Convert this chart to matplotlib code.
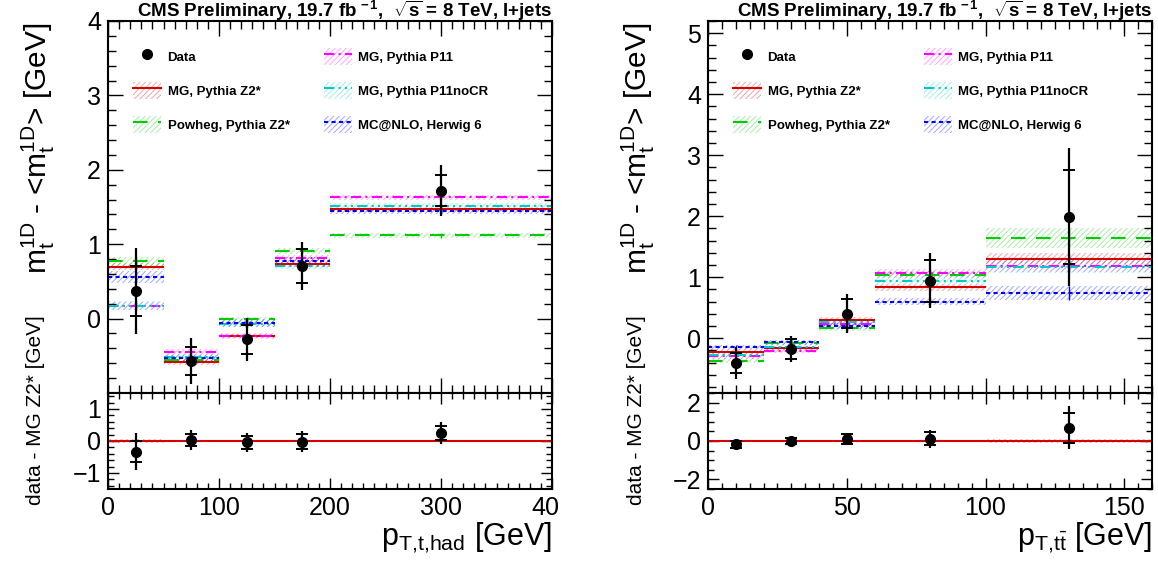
import numpy as np
import matplotlib
matplotlib.use("Agg")
import matplotlib.pyplot as plt
from matplotlib.patches import Patch, Rectangle
from matplotlib.lines import Line2D
from matplotlib.ticker import MultipleLocator, FixedLocator

plt.rcParams["font.family"] = ["Liberation Sans", "DejaVu Sans"]
plt.rcParams["mathtext.fontset"] = "custom"
plt.rcParams["mathtext.rm"] = "Liberation Sans"
plt.rcParams["mathtext.it"] = "Liberation Sans"
plt.rcParams["mathtext.bf"] = "Liberation Sans:bold"
plt.rcParams["hatch.linewidth"] = 0.7

# p_T of the hadronic top
had_edges = [0, 50, 100, 150, 200, 400]
had_centers = [25, 75, 125, 175, 300]
had_data = [0.37, -0.57, -0.28, 0.71, 1.72]
had_stat = [0.34, 0.19, 0.20, 0.23, 0.21]
had_tot = [0.58, 0.31, 0.29, 0.32, 0.34]
had_mg_z2 = [0.70, -0.59, -0.235, 0.73, 1.47]
had_powheg = [0.77, -0.555, -0.01, 0.91, 1.12]
had_p11 = [0.17, -0.45, -0.23, 0.81, 1.63]
had_p11nocr = [0.17, -0.51, -0.07, 0.71, 1.52]
had_mcatnlo = [0.56, -0.53, -0.06, 0.78, 1.44]
had_mg_z2_err = [0.05, 0.03, 0.03, 0.03, 0.02]
had_powheg_err = [0.06, 0.03, 0.03, 0.04, 0.03]
had_p11_err = [0.05, 0.04, 0.04, 0.04, 0.03]
had_p11nocr_err = [0.06, 0.04, 0.04, 0.04, 0.03]
had_mcatnlo_err = [0.08, 0.04, 0.05, 0.05, 0.03]

# p_T of the ttbar system
tt_edges = [0, 20, 40, 60, 100, 160]
tt_centers = [10, 30, 50, 80, 130]
tt_data = [-0.41, -0.18, 0.40, 0.94, 1.99]
tt_stat = [0.17, 0.16, 0.24, 0.34, 0.77]
tt_tot = [0.26, 0.21, 0.32, 0.45, 1.13]
tt_mg_z2 = [-0.23, -0.17, 0.30, 0.83, 1.30]
tt_powheg = [-0.37, -0.08, 0.17, 1.04, 1.64]
tt_p11 = [-0.30, -0.21, 0.23, 1.07, 1.18]
tt_p11nocr = [-0.27, -0.15, 0.26, 0.94, 1.17]
tt_mcatnlo = [-0.15, -0.07, 0.20, 0.60, 0.74]
tt_mg_z2_err = [0.03, 0.03, 0.04, 0.05, 0.09]
tt_powheg_err = [0.04, 0.03, 0.05, 0.06, 0.17]
tt_p11_err = [0.04, 0.04, 0.04, 0.06, 0.10]
tt_p11nocr_err = [0.04, 0.04, 0.04, 0.06, 0.10]
tt_mcatnlo_err = [0.04, 0.04, 0.05, 0.06, 0.11]

labels = ["MG, Pythia Z2*", "Powheg, Pythia Z2*", "MG, Pythia P11",
          "MG, Pythia P11noCR", "MC@NLO, Herwig 6"]
colors = ["#d40000", "#00cc00", "#ff00ff", "#00c8c8", "#0000ff"]
styles = ["-", (0, (7, 5)), (0, (5, 2, 1, 2)), (0, (5, 2, 1, 2, 1, 2)), (0, (2, 1.6))]

W, H = 1158, 567


def box(x0, y0, x1, y1):
    return [x0 / W, 1 - y1 / H, (x1 - x0) / W, (y1 - y0) / H]


def hatch_color(c):
    return matplotlib.colors.to_rgba(c, 0.35)


def draw_model(ax, edges, vals, errs, color, ls):
    edges = np.asarray(edges, float)
    vals = np.asarray(vals)
    errs = np.asarray(errs)
    lo, hi = edges[:-1], edges[1:]
    ax.bar(lo, 2 * errs, bottom=vals - errs, width=hi - lo, align="edge",
           facecolor="none", edgecolor=hatch_color(color), hatch="//////",
           linewidth=0, zorder=1)
    ax.hlines(vals, lo, hi, colors=color, linestyles=[ls], linewidth=1.5, zorder=2)
    ax.vlines((lo + hi) / 2, vals - errs, vals + errs, colors=color, linewidth=1.0, zorder=2)


def draw_data(ax, x, y, stat, tot):
    ax.errorbar(x, y, yerr=tot, fmt="o", color="black", ms=7, elinewidth=1.6,
                capsize=0, zorder=5)
    ax.errorbar(x, y, yerr=stat, fmt="none", ecolor="black", elinewidth=0,
                capsize=4.5, capthick=1.4, zorder=5)


def style(ax, xmaj, xmin, ymaj, ymin, big):
    ax.xaxis.set_major_locator(MultipleLocator(xmaj))
    ax.xaxis.set_minor_locator(MultipleLocator(xmin))
    ax.yaxis.set_major_locator(MultipleLocator(ymaj))
    ax.yaxis.set_minor_locator(MultipleLocator(ymin))
    ax.tick_params(which="both", direction="in", top=True, right=True,
                   width=1.0, labelsize=18, pad=5)
    ax.tick_params(which="major", length=11 if big else 8)
    ax.tick_params(which="minor", length=6 if big else 4)
    for s in ax.spines.values():
        s.set_linewidth(1.5)


fig = plt.figure(figsize=(W / 100, H / 100), dpi=100)

panels = [
    (108, had_edges, had_centers, had_data, had_stat, had_tot,
     [had_mg_z2, had_powheg, had_p11, had_p11nocr, had_mcatnlo],
     [had_mg_z2_err, had_powheg_err, had_p11_err, had_p11nocr_err, had_mcatnlo_err],
     (0, 400), (-1, 4), (-1.5, 1.5), (100, 10),
     r"p$_{\mathrm{T{,}t{,}had}}$ [GeV]"),
    (708, tt_edges, tt_centers, tt_data, tt_stat, tt_tot,
     [tt_mg_z2, tt_powheg, tt_p11, tt_p11nocr, tt_mcatnlo],
     [tt_mg_z2_err, tt_powheg_err, tt_p11_err, tt_p11nocr_err, tt_mcatnlo_err],
     (0, 160), (-0.9, 5.2), (-2.5, 2.5), (50, 5),
     r"p$_{\mathrm{T{,}t\bar{t}}}$ [GeV]"),
]

for i, (x0, edges, centers, data, stat, tot, models, merrs, xlim, ylim,
        rlim, xt, xlabel) in enumerate(panels):
    x1 = x0 + 444
    ax = fig.add_axes(box(x0, 21, x1, 393))
    axr = fig.add_axes(box(x0, 393, x1, 489))

    for vals, errs, c, ls in zip(models, merrs, colors, styles):
        draw_model(ax, edges, vals, errs, c, ls)
    draw_data(ax, centers, data, stat, tot)

    ax.set_xlim(*xlim)
    ax.set_ylim(*ylim)
    style(ax, xt[0], xt[1], 1, 0.2, True)
    ax.tick_params(labelbottom=False)
    if i == 0:
        ax.yaxis.set_major_locator(FixedLocator([0, 1, 2, 3, 4]))

    # ratio panel: data minus MG Z2*
    diff = np.asarray(data) - np.asarray(models[0])
    zeros = np.zeros(len(centers))
    draw_model(axr, edges, zeros, merrs[0], colors[0], "-")
    draw_data(axr, centers, diff, stat, tot)
    axr.set_xlim(*xlim)
    axr.set_ylim(*rlim)
    style(axr, xt[0], xt[1], 1 if i == 0 else 2, 0.2 if i == 0 else 0.5, False)

    # legend
    handles = [Line2D([], [], marker="o", color="black", ls="none", ms=7)]
    for c, ls in zip(colors, styles):
        handles.append((Patch(facecolor="none", edgecolor=hatch_color(c),
                              hatch="//////", linewidth=0),
                        Line2D([], [], color=c, ls=ls, lw=1.5)))
    ax.legend(handles, ["Data"] + labels, ncol=2, frameon=False,
              loc="upper left", bbox_to_anchor=(0.03, 0.96),
              prop={"weight": "bold", "size": 9.5}, handlelength=2.1,
              handleheight=1.6, handletextpad=0.5, labelspacing=1.3,
              columnspacing=2.6)

    fig.text(x1 / W, 1 - 11 / H,
             r"CMS Preliminary, 19.7 fb$^{\mathbf{\,-1}}$,  $\mathbf{\sqrt{s}}$ = 8 TeV, l+jets",
             ha="right", va="center", fontsize=13.5, fontweight="bold")
    fig.text((x0 - 70) / W, 1 - 148 / H,
             r"$\mathrm{m_t^{1D}}$ - <$\mathrm{m_t^{1D}}$> [GeV]",
             rotation=90, ha="center", va="center", fontsize=21.5)
    fig.text((x0 - 72) / W, 1 - 410 / H, "data - MG Z2* [GeV]",
             rotation=90, ha="center", va="center", fontsize=15)
    fig.text(x1 / W, 1 - 538 / H, xlabel, ha="right", va="center", fontsize=22)

# the left canvas cuts off the last tick label
fig.add_artist(Rectangle((558 / W, 0), 40 / W, 0.2, transform=fig.transFigure,
                         facecolor="white", edgecolor="none", zorder=10))

fig.savefig("out.png", dpi=100)
